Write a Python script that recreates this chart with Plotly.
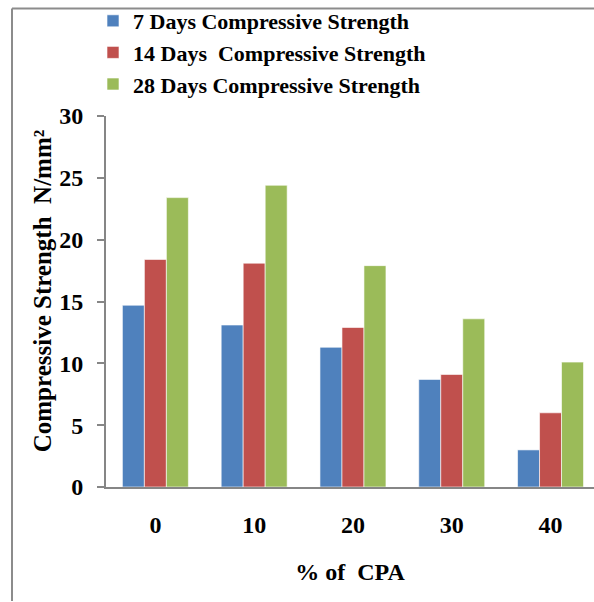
import plotly.graph_objects as go

categories = ["0", "10", "20", "30", "40"]
series_names = ["7 Days Compressive Strength", "14 Days  Compressive Strength", "28 Days Compressive Strength"]
days7 = [14.7, 13.1, 11.3, 8.7, 3.0]
days14 = [18.4, 18.1, 12.9, 9.1, 6.0]
days28 = [23.4, 24.4, 17.9, 13.6, 10.1]
colors = ["#4F81BD", "#C0504D", "#9BBB59"]
y_ticks = [0, 5, 10, 15, 20, 25, 30]
y_title = "Compressive Strength  N/mm²"
x_title = "% of  CPA"

W, H = 594, 602
L, R, T, B = 106, 0, 115, 114.5
pw, ph = W - L - R, H - T - B

def px_x(p):
    return (p - L) / pw

def px_y(p):
    return (H - B - p) / ph

font_fam = "Liberation Serif"
fig = go.Figure()
for name, vals, c in zip(series_names, [days7, days14, days28], colors):
    fig.add_trace(go.Bar(
        x=categories, y=vals, name=name,
        marker=dict(color=c, line=dict(color="rgba(255,255,255,0.6)", width=1)),
    ))

fig.update_layout(
    width=W, height=H,
    margin=dict(l=L, r=R, t=T, b=B, pad=0),
    paper_bgcolor="white", plot_bgcolor="white",
    barmode="group", bargap=0.332, bargroupgap=0,
    font=dict(family=font_fam, color="black", size=22),
    showlegend=True,
    legend=dict(
        x=px_x(93), y=px_y(-1), xanchor="left", yanchor="top",
        font=dict(family=font_fam, size=22, color="black", weight="bold"),
        bgcolor="rgba(0,0,0,0)", tracegroupgap=0, itemwidth=30,
    ),
    xaxis=dict(
        type="category", range=[-0.5, 4.44],
        showline=True, linecolor="#868686", linewidth=2,
        ticks="", showgrid=False, zeroline=False,
        ticklabelstandoff=15,
        tickfont=dict(family=font_fam, size=24, color="black", weight="bold"),
        title=dict(text=x_title, standoff=26,
                   font=dict(family=font_fam, size=24, color="black", weight="bold")),
    ),
    yaxis=dict(
        range=[0, 30], tickvals=y_ticks,
        showline=True, linecolor="#868686", linewidth=2,
        ticks="outside", ticklen=7, tickcolor="#868686", tickwidth=2,
        showgrid=False, zeroline=False,
        ticklabelstandoff=9,
        tickfont=dict(family=font_fam, size=24, color="black", weight="bold"),
    ),
    annotations=[
        dict(text=y_title, xref="paper", yref="paper",
             x=px_x(42), y=px_y(291), xanchor="center", yanchor="middle",
             textangle=-90, showarrow=False,
             font=dict(family=font_fam, size=25, color="black", weight="bold")),
    ],
    shapes=[
        dict(type="line", xref="paper", yref="paper",
             x0=px_x(12), x1=px_x(12), y0=px_y(7), y1=px_y(602),
             line=dict(color="#8c8c8c", width=2)),
        dict(type="line", xref="paper", yref="paper",
             x0=px_x(12), x1=px_x(594), y0=px_y(7), y1=px_y(7),
             line=dict(color="#8c8c8c", width=2)),
    ],
)

fig.write_html("out.html")
